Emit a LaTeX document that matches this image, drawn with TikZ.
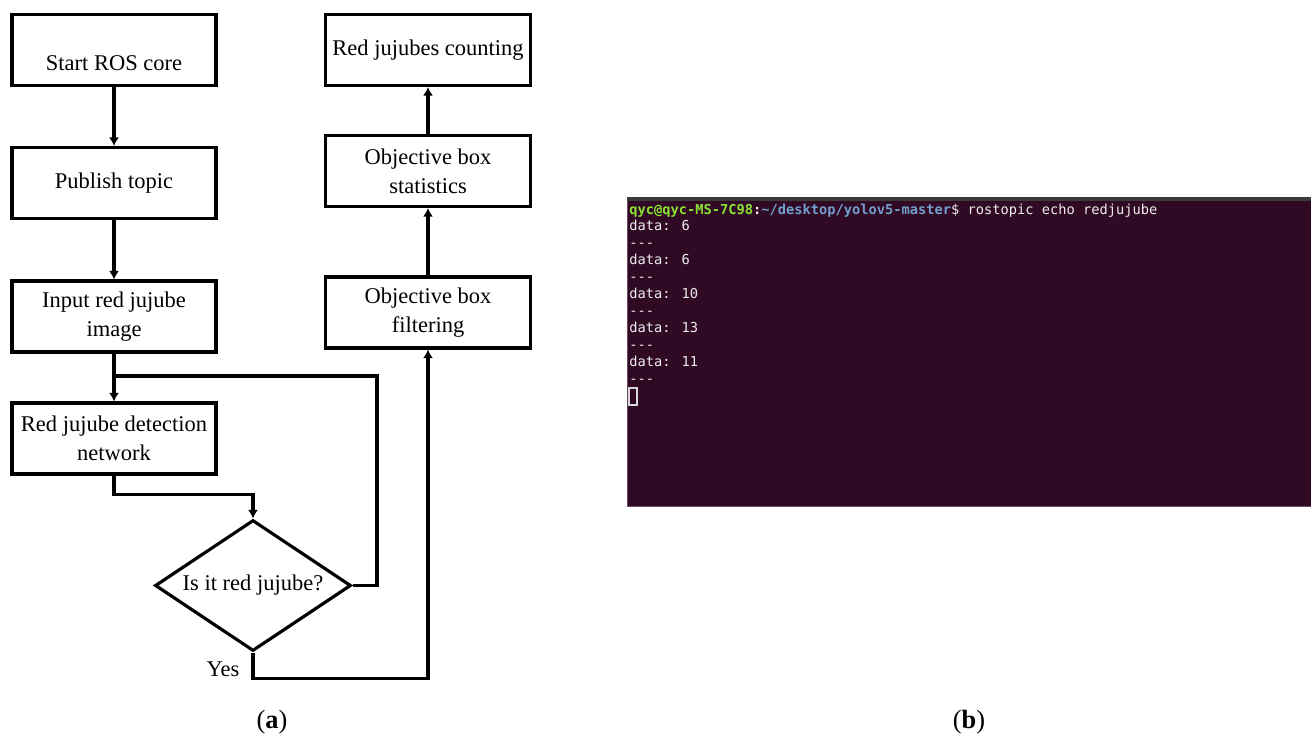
\documentclass[tikz,border=0pt]{standalone}
\usepackage{fontspec}
\setmainfont{Liberation Serif}
\newfontfamily\termfont{DejaVu Sans Mono}
\usetikzlibrary{
  arrows.meta,
  shapes.geometric
}
\newcommand\flowfont{\fontsize{12.8}{16.5}\selectfont}
\newcommand\termtype{\termfont\fontsize{7.8}{9}\selectfont}
\definecolor{termbg}{HTML}{300A24}
\definecolor{termbar}{HTML}{3C3B37}
\definecolor{termedge}{HTML}{6E4A64}
\definecolor{promptgreen}{HTML}{8AE234}
\definecolor{pathblue}{HTML}{729FCF}
\definecolor{termtext}{HTML}{EEEEEC}
\tikzset{
  % For process steps.
  stepbox/.style={
    draw,
    line width=1.8pt,
    minimum width=4.08cm,
    minimum height=1.42cm,
    inner xsep=2pt,
    align=center,
    font=\flowfont},
%
  % For the yes/no question.
  decision/.style={
    draw,
    diamond,
    aspect=1.5,
    line width=1.8pt,
    minimum width=3.92cm,
    minimum height=2.62cm,
    inner sep=0pt,
    font=\flowfont},
%
  % For connectors.
  flowline/.style={
    line width=1.8pt},
  flowarrow/.style={
    line width=1.8pt,
    -{Latex[length=0.17cm,width=0.2cm]}},
%
  % For terminal output.
  termline/.style={
    anchor=base west,
    inner sep=0pt,
    font=\termtype,
    text=termtext},
%
  % For captions.
  caption/.style={
    font=\fontsize{15}{17}\selectfont},
}

\begin{document}
\begin{tikzpicture}[x=0.02cm, y=-0.02cm]
  \useasboundingbox (0,0) rectangle (1311,740);

  % (a) flowchart
  \node[stepbox, text height=0.84cm, text depth=0pt] (start) at (114,50) {Start ROS core};
  \node[stepbox] (publish) at (114,183) {Publish topic};
  \node[stepbox] (input) at (114,316.5) {Input red jujube\\image};
  \node[stepbox] (detect) at (114,438.5) {Red jujube detection\\network};
  \node[decision] (judge) at (253,585.5) {Is it red jujube?};
  \node[stepbox, minimum width=4.1cm] (filter) at (428,312.5) {Objective box\\filtering};
  \node[stepbox, minimum width=4.1cm] (stats) at (428,171) {Objective box\\statistics};
  \node[stepbox, minimum width=4.1cm] (count) at (428,50) {Red jujubes counting};
  \node[font=\flowfont] (yes) at (223,669) {Yes};
  \coordinate (back) at (377,376);

  \draw[flowarrow] (start) -- (publish);
  \draw[flowarrow] (publish) -- (input);
  \draw[flowarrow] (input) -- (detect);
  \draw[flowline] (judge.east) -| (back) -- (back -| input.south);
  \draw[flowarrow] (detect.south) -- ++(0,19) -| (judge.north);
  \draw[flowarrow] (judge.south) -- ++(0,26) -| (filter.south);
  \draw[flowarrow] (filter) -- (stats);
  \draw[flowarrow] (stats) -- (count);

  % (b) terminal
  \draw[termedge, fill=termbg, line width=0.4pt] (627,198) rectangle (1311,506);
  \fill[termbar] (627,197) rectangle (1311,201);
  \node[termline] (cmd) at (629,214) {\textbf{\color{promptgreen}qyc@qyc-MS-7C98}\textbf{:\color{pathblue}\textasciitilde/desktop/yolov5-master}\$ rostopic echo redjujube};
  \node[termline] (d1) at (629,230.9) {data: 6};
  \node[termline] (s1) at (629,247.8) {-{}-{}-};
  \node[termline] (d2) at (629,264.7) {data: 6};
  \node[termline] (s2) at (629,281.6) {-{}-{}-};
  \node[termline] (d3) at (629,298.5) {data: 10};
  \node[termline] (s3) at (629,315.4) {-{}-{}-};
  \node[termline] (d4) at (629,332.3) {data: 13};
  \node[termline] (s4) at (629,349.2) {-{}-{}-};
  \node[termline] (d5) at (629,366.1) {data: 11};
  \node[termline] (s5) at (629,383) {-{}-{}-};
  \draw[termtext!80!gray, line width=0.6pt] (629,388) rectangle (637,405);

  % captions
  \node[caption] (capa) at (272,722) {(\textbf{a})};
  \node[caption] (capb) at (969,722) {(\textbf{b})};
\end{tikzpicture}
\end{document}
